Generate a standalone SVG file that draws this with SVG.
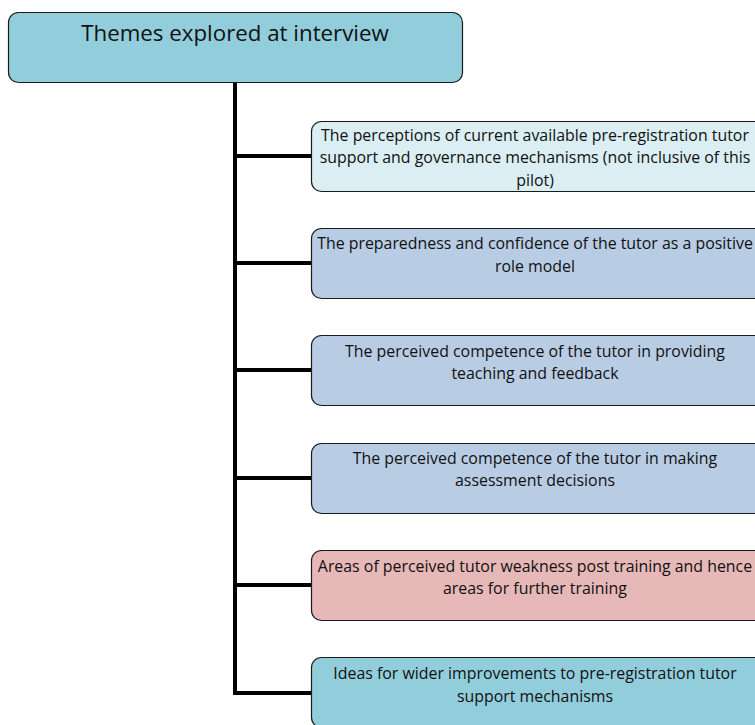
<svg xmlns="http://www.w3.org/2000/svg" width="755" height="725" viewBox="0 0 755 725">
<style>
.box{stroke:#1a1a1a;stroke-width:1.2}
.t{font-family:"Open Sans","Liberation Sans",Arial,sans-serif;font-size:15.9px;fill:#111;text-anchor:middle}
.title{font-family:"Open Sans","Liberation Sans",Arial,sans-serif;font-size:22.3px;fill:#111;text-anchor:middle}
.c{stroke:#000;stroke-width:4;fill:none}
</style>
<rect width="755" height="725" fill="#fff"/>
<g id="connectors">
<path class="c" d="M235 83 V693 H311"/>
<path class="c" d="M235 156 H311 M235 263 H311 M235 370 H311 M235 478 H311 M235 585 H311"/>
</g>
<g id="root">
<rect class="box" x="8.5" y="12.5" width="454" height="70" rx="10" fill="#92CDDC"/>
<text class="title" x="235" y="41">Themes explored at interview</text>
</g>
<g id="n1">
<rect class="box" x="311.5" y="121.5" width="460" height="70" rx="10" fill="#DAEEF3"/>
<text class="t" x="535" y="141">The perceptions of current available pre-registration tutor</text>
<text class="t" x="535" y="163">support and governance mechanisms (not inclusive of this</text>
<text class="t" x="535" y="186">pilot)</text>
</g>
<g id="n2">
<rect class="box" x="311.5" y="228.5" width="460" height="70" rx="10" fill="#B8CCE4"/>
<text class="t" x="535" y="249">The preparedness and confidence of the tutor as a positive</text>
<text class="t" x="535" y="272">role model</text>
</g>
<g id="n3">
<rect class="box" x="311.5" y="335.5" width="460" height="70" rx="10" fill="#B8CCE4"/>
<text class="t" x="535" y="357">The perceived competence of the tutor in providing</text>
<text class="t" x="535" y="379">teaching and feedback</text>
</g>
<g id="n4">
<rect class="box" x="311.5" y="443.5" width="460" height="70" rx="10" fill="#B8CCE4"/>
<text class="t" x="535" y="464">The perceived competence of the tutor in making</text>
<text class="t" x="535" y="486">assessment decisions</text>
</g>
<g id="n5">
<rect class="box" x="311.5" y="550.5" width="460" height="70" rx="10" fill="#E6B8B7"/>
<text class="t" x="535" y="572">Areas of perceived tutor weakness post training and hence</text>
<text class="t" x="535" y="594">areas for further training</text>
</g>
<g id="n6">
<rect class="box" x="311.5" y="657.5" width="460" height="70" rx="10" fill="#92CDDC"/>
<text class="t" x="535" y="679">Ideas for wider improvements to pre-registration tutor</text>
<text class="t" x="535" y="702">support mechanisms</text>
</g>
</svg>
